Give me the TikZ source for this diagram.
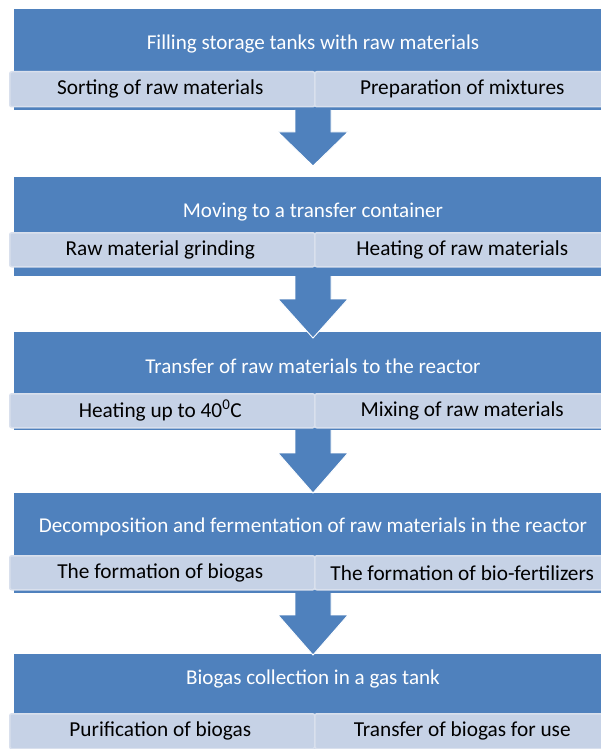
\documentclass[tikz,border=0pt]{standalone}
\usepackage{fontspec}
\setmainfont{Carlito}
\definecolor{blk}{HTML}{4F81BD}
\definecolor{subf}{HTML}{C6D2E6}
\definecolor{subd}{HTML}{D9E0ED}
\begin{document}
\begin{tikzpicture}[x=1pt,y=-1pt,
  block/.style={fill=blk, draw=none, inner sep=0pt, anchor=north west},
  title/.style={text=white, font=\fontsize{21.1}{24}\selectfont, inner sep=0pt},
  subbox/.style={fill=subf, draw=subd, line width=1.5pt, rounded corners=2pt, inner sep=0pt},
  subtext/.style={text=black, font=\fontsize{21.3}{24}\selectfont, inner sep=0pt},
  flowarrow/.style={fill=blk},
  arrowedge/.style={draw=white, line width=0.9pt, line join=miter}
]
\useasboundingbox (0,0) rectangle (601,749);
\clip (0,0) rectangle (601,749);

% blocks
\node[block, minimum width=600pt, minimum height=101pt] (b1) at (14,9) {};
\node[block, minimum width=600pt, minimum height=99pt] (b2) at (14,177) {};
\node[block, minimum width=600pt, minimum height=98pt] (b3) at (14,332) {};
\node[block, minimum width=600pt, minimum height=100pt] (b4) at (14,493) {};
\node[block, minimum width=600pt, minimum height=100pt] (b5) at (14,654) {};

% titles
\node[title] (t1) at (313,44) {Filling storage tanks with raw materials};
\node[title] (t2) at (313,212) {Moving to a transfer container};
\node[title] (t3) at (313,366) {Transfer of raw materials to the reactor};
\node[title] (t4) at (313,527) {Decomposition and fermentation of raw materials in the reactor};
\node[title] (t5) at (313,679) {Biogas collection in a gas tank};

% sub boxes
\foreach \n/\ya/\yb in {1/71/106, 2/232/266, 3/393/427, 4/555/589, 5/713/748}{
  \node[subbox, minimum width=305pt, minimum height={\yb-\ya}, anchor=north west] (l\n) at (9,\ya) {};
  \node[subbox, minimum width=300pt, minimum height={\yb-\ya}, anchor=north west] (r\n) at (314,\ya) {};
}

\node[subtext] at ([xshift=-2pt]l1.center) {Sorting of raw materials};
\node[subtext] at ([xshift=300pt]l1.center) {Preparation of mixtures};
\node[subtext] at ([xshift=-2pt]l2.center) {Raw material grinding};
\node[subtext] at ([xshift=300pt]l2.center) {Heating of raw materials};
\node[subtext] at ([xshift=-2pt]l3.center) {Heating up to 40\textsuperscript{0}C};
\node[subtext] at ([xshift=300pt]l3.center) {Mixing of raw materials};
\node[subtext] at ([xshift=-2pt]l4.center) {The formation of biogas};
\node[subtext] at ([xshift=300pt]l4.center) {The formation of bio-fertilizers};
\node[subtext] at ([xshift=-2pt]l5.center) {Purification of biogas};
\node[subtext] at ([xshift=300pt]l5.center) {Transfer of biogas for use};

% arrows
\foreach \yt/\ys/\yp in {109/132/166, 275/299/338, 429/453/493, 592/615/655}{
  \fill[flowarrow] (295,\yt) -- (295,\ys) -- (278,\ys) -- (313,\yp) -- (348,\ys) -- (331,\ys) -- (331,\yt) -- cycle;
  \draw[arrowedge] (295,\yt+1) -- (295,\ys) -- (278,\ys) -- (313,\yp) -- (348,\ys) -- (331,\ys) -- (331,\yt+1);
}
\end{tikzpicture}
\end{document}
